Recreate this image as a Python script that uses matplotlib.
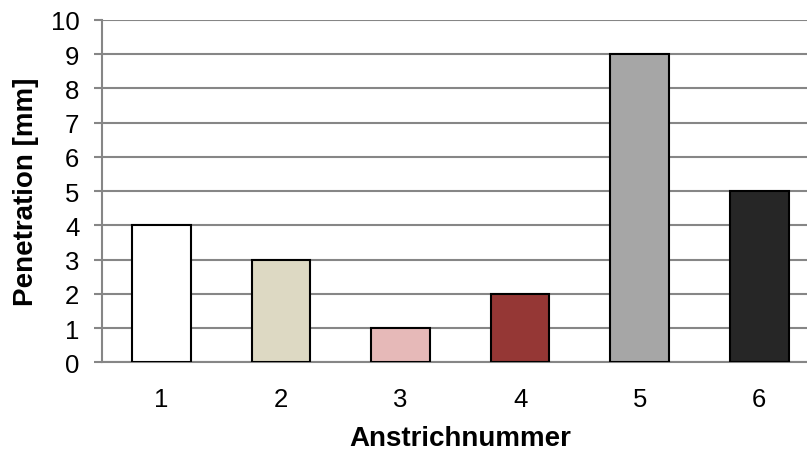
import matplotlib
matplotlib.use("Agg")
import matplotlib.pyplot as plt

categories = ["1", "2", "3", "4", "5", "6"]
values = [4, 3, 1, 2, 9, 5]
colors = ["#FFFFFF", "#DDD9C3", "#E6B9B8", "#953735", "#A6A6A6", "#262626"]
yticks = list(range(0, 11))

plt.rcParams['font.family'] = ['Liberation Sans', 'DejaVu Sans']

W, H = 807, 452
fig = plt.figure(figsize=(W/100, H/100), dpi=100)
left_px, right_px = 101.5, 101.5 + 6*119.6
top_px, bot_px = 21, 363.3
ax = fig.add_axes([left_px/W, (H-bot_px)/H, (right_px-left_px)/W, (bot_px-top_px)/H])

x = list(range(len(categories)))
ax.bar(x, values, width=0.49, color=colors, edgecolor="black", linewidth=1.5, zorder=3)

ax.set_xlim(-0.5, 5.5)
ax.set_ylim(0, 10)
ax.set_yticks(yticks)
ax.set_xticks(x)
ax.set_xticklabels(categories)
ax.grid(axis="y", color="#868686", linewidth=1.5, zorder=0)
ax.set_axisbelow(True)
for s in ["top", "right"]:
    ax.spines[s].set_visible(False)
ax.spines["left"].set_color("#868686")
ax.spines["left"].set_linewidth(1.5)
ax.spines["bottom"].set_color("#868686")
ax.spines["bottom"].set_linewidth(1.5)
ax.tick_params(axis="y", length=6, width=1.5, color="#868686", labelsize=18.5, pad=10)
ax.tick_params(axis="x", length=0, labelsize=18.5, pad=18)

ax.set_ylabel("Penetration [mm]", fontsize=20, fontweight="bold", labelpad=8)
ax.set_xlabel("Anstrichnummer", fontsize=20, fontweight="bold", labelpad=10)

fig.savefig("out.png", dpi=100)
